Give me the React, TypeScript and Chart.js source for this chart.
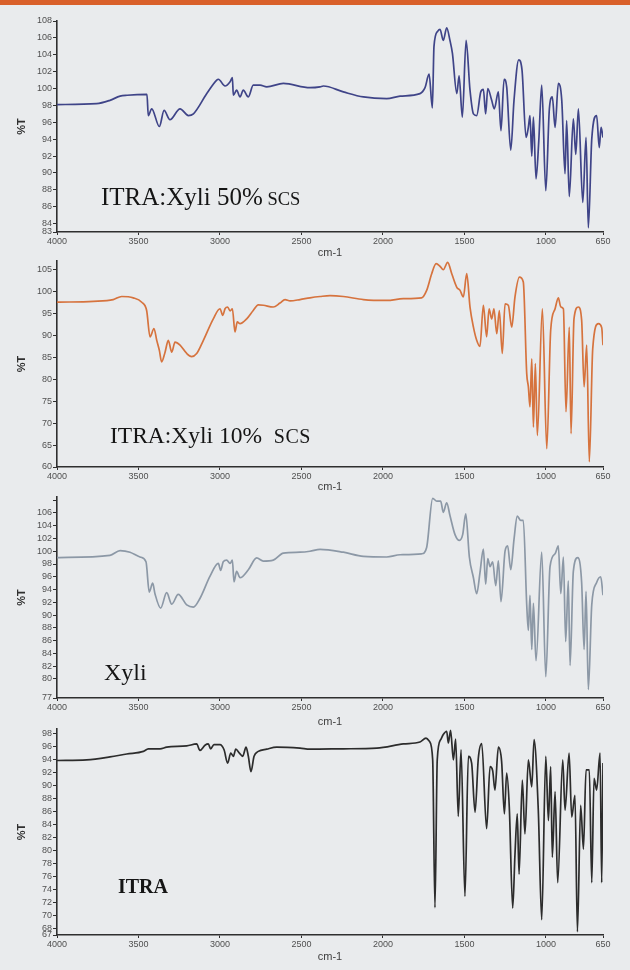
import React, { useEffect, useRef } from 'react';
import { Chart, registerables } from 'chart.js';

Chart.register(...registerables);
Chart.defaults.font.family = "'Liberation Sans', Arial, sans-serif";

const xTickValues = [4000, 3500, 3000, 2500, 2000, 1500, 1000, 650];

// Panel 1: ITRA:Xyli 50% SCS
const p1Wavenumber = [4000, 3757, 3675, 3613, 3570, 3448, 3440, 3419, 3372, 3343, 3307, 3245, 3194, 3163, 3081, 3020, 3010, 2969, 2938, 2924, 2918, 2898, 2877, 2857, 2826, 2796, 2754, 2713, 2611, 2448, 2386, 2366, 2243, 2120, 1977, 1895, 1773, 1742, 1717, 1697, 1687, 1664, 1650, 1630, 1609, 1589, 1574, 1547, 1533, 1513, 1490, 1466, 1445, 1425, 1400, 1384, 1370, 1357, 1333, 1317, 1292, 1276, 1257, 1241, 1216, 1196, 1167, 1147, 1122, 1108, 1098, 1087, 1077, 1061, 1044, 1026, 1001, 979, 961, 944, 924, 903, 883, 873, 857, 832, 817, 801, 774, 754, 740, 719, 689, 673, 662, 650];
const p1Transmittance = [98.1, 98.2, 98.6, 99.1, 99.2, 99.3, 96.8, 97.6, 95.5, 97.4, 96.3, 97.6, 96.8, 97.0, 99.4, 101.0, 101.1, 100.3, 100.8, 101.3, 99.2, 99.8, 99.0, 99.8, 99.0, 100.4, 100.4, 100.2, 100.6, 100.1, 100.2, 100.3, 99.6, 99.0, 98.8, 99.1, 99.4, 100.1, 101.7, 97.7, 105.0, 106.8, 107.0, 105.7, 107.2, 105.7, 104.2, 99.4, 101.5, 96.6, 105.7, 99.8, 97.0, 96.8, 99.6, 99.9, 97.0, 100.0, 98.6, 97.6, 99.6, 95.0, 101.1, 100.2, 92.7, 98.6, 103.4, 102.2, 94.2, 95.4, 96.8, 92.0, 96.6, 89.3, 93.8, 100.4, 87.9, 97.6, 99.0, 95.4, 100.6, 98.6, 89.9, 96.2, 87.2, 96.4, 92.2, 97.6, 86.5, 94.2, 83.5, 94.0, 96.8, 93.0, 95.4, 94.2];
const p1YTicks = [83, 84, 86, 88, 90, 92, 94, 96, 98, 100, 102, 104, 106, 108];

// Panel 2: ITRA:Xyli 10% SCS
const p2Wavenumber = [4000, 3777, 3655, 3603, 3532, 3480, 3450, 3429, 3405, 3388, 3372, 3358, 3337, 3317, 3296, 3276, 3245, 3204, 3174, 3143, 3102, 3041, 3000, 2983, 2969, 2953, 2938, 2924, 2908, 2894, 2877, 2836, 2796, 2765, 2734, 2673, 2632, 2601, 2570, 2509, 2448, 2386, 2325, 2243, 2120, 1977, 1875, 1763, 1732, 1701, 1674, 1650, 1630, 1603, 1578, 1547, 1527, 1507, 1486, 1466, 1445, 1425, 1405, 1384, 1364, 1349, 1333, 1319, 1302, 1286, 1268, 1251, 1231, 1210, 1190, 1163, 1139, 1118, 1108, 1098, 1087, 1077, 1065, 1053, 1022, 995, 971, 944, 924, 909, 893, 877, 857, 846, 828, 801, 781, 766, 750, 734, 713, 678, 658, 650];
const p2Transmittance = [97.6, 97.8, 98.2, 98.9, 98.6, 97.6, 95.7, 89.7, 91.6, 88.9, 86.6, 84.0, 86.2, 88.9, 86.2, 88.5, 87.8, 85.9, 85.2, 85.9, 88.9, 93.8, 96.1, 94.6, 96.1, 96.5, 95.6, 96.1, 90.8, 93.1, 92.7, 93.8, 95.7, 97.0, 96.9, 96.5, 97.4, 98.2, 97.9, 98.2, 98.6, 98.9, 99.1, 98.9, 98.2, 98.0, 98.4, 98.6, 100.3, 104.1, 106.4, 105.8, 105.0, 106.7, 104.1, 101.0, 100.3, 98.8, 104.1, 96.5, 91.9, 88.9, 87.5, 96.9, 89.7, 96.1, 93.8, 96.1, 90.4, 95.7, 85.9, 97.2, 96.9, 91.9, 98.8, 103.3, 102.2, 81.3, 78.3, 73.7, 84.7, 69.1, 83.6, 67.2, 96.1, 64.2, 91.2, 96.1, 98.6, 96.5, 96.1, 72.6, 91.9, 67.6, 93.8, 96.5, 93.5, 78.3, 87.8, 61.2, 87.0, 92.7, 91.8, 87.8];
const p2YTicks = [60, 65, 70, 75, 80, 85, 90, 95, 100, 105];

// Panel 3: Xyli
const p3Wavenumber = [4000, 3675, 3613, 3552, 3491, 3454, 3434, 3413, 3399, 3364, 3327, 3296, 3256, 3204, 3163, 3123, 3061, 3010, 2996, 2980, 2959, 2938, 2924, 2914, 2898, 2877, 2826, 2775, 2734, 2673, 2611, 2509, 2448, 2386, 2243, 2120, 1977, 1895, 1763, 1732, 1695, 1670, 1646, 1630, 1609, 1589, 1558, 1531, 1511, 1492, 1470, 1445, 1425, 1405, 1384, 1370, 1357, 1343, 1327, 1308, 1292, 1276, 1251, 1235, 1216, 1196, 1176, 1155, 1139, 1118, 1108, 1098, 1087, 1077, 1061, 1026, 1001, 975, 944, 924, 909, 893, 879, 863, 852, 832, 805, 781, 766, 754, 740, 719, 689, 664, 650];
const p3Transmittance = [99.0, 99.35, 100.1, 99.85, 99.1, 98.35, 93.6, 95.0, 93.35, 91.1, 93.5, 91.7, 93.25, 91.6, 91.25, 92.6, 96.1, 98.1, 97.0, 98.35, 98.6, 98.1, 98.6, 95.2, 96.85, 95.85, 97.1, 98.95, 98.45, 98.6, 99.7, 99.85, 100.0, 100.3, 99.85, 99.2, 99.1, 99.45, 99.6, 100.6, 108.3, 107.85, 107.85, 106.1, 107.6, 105.6, 102.6, 101.7, 102.6, 105.85, 99.1, 95.85, 93.35, 96.6, 100.35, 94.85, 98.85, 97.6, 98.35, 94.6, 98.5, 92.1, 100.0, 100.85, 97.1, 101.85, 105.5, 104.85, 104.85, 91.6, 87.6, 93.1, 84.6, 91.85, 82.85, 99.85, 80.35, 97.6, 99.6, 100.85, 93.35, 99.1, 85.85, 95.35, 82.1, 96.85, 99.0, 95.1, 84.6, 93.7, 78.35, 91.6, 95.1, 96.0, 93.1];
const p3YTicks = [77, 80, 82, 84, 86, 88, 90, 92, 94, 96, 98, 100, 102, 104, 106, 108];
const p3UnlabeledTicks = [108];

// Panel 4: ITRA
const p4Wavenumber = [4000, 3818, 3675, 3572, 3470, 3440, 3368, 3327, 3204, 3143, 3123, 3092, 3072, 3057, 3037, 3000, 2975, 2953, 2934, 2918, 2903, 2881, 2861, 2840, 2826, 2810, 2791, 2765, 2713, 2652, 2509, 2448, 2243, 2038, 1875, 1773, 1736, 1715, 1695, 1681, 1667, 1646, 1630, 1609, 1599, 1585, 1568, 1554, 1538, 1521, 1497, 1476, 1456, 1435, 1415, 1394, 1364, 1343, 1327, 1313, 1292, 1272, 1255, 1241, 1225, 1204, 1190, 1176, 1165, 1145, 1129, 1108, 1087, 1073, 1047, 1026, 1001, 985, 971, 961, 944, 928, 897, 883, 858, 842, 822, 807, 787, 770, 754, 734, 719, 705, 689, 668, 658, 650];
const p4Transmittance = [93.85, 93.95, 94.4, 94.85, 95.25, 95.65, 95.65, 95.9, 96.1, 96.4, 95.4, 96.2, 96.4, 95.65, 96.3, 96.3, 95.5, 93.45, 95.0, 94.5, 95.6, 95.0, 94.5, 95.9, 94.5, 92.15, 94.5, 95.25, 95.6, 95.9, 95.75, 95.6, 95.65, 95.75, 96.4, 96.7, 97.3, 96.8, 93.95, 71.2, 93.95, 97.05, 97.85, 98.35, 96.55, 98.5, 93.95, 97.15, 85.25, 95.5, 72.95, 94.5, 93.45, 85.9, 94.2, 96.45, 83.35, 92.9, 92.3, 89.3, 95.9, 93.7, 85.65, 91.9, 86.7, 71.15, 79.45, 85.65, 76.35, 90.85, 82.55, 93.95, 89.8, 97.05, 86.2, 69.35, 94.5, 84.6, 92.9, 78.95, 89.05, 75.05, 93.95, 86.2, 95.0, 85.15, 88.5, 67.5, 86.95, 80.2, 92.4, 92.4, 75.05, 91.1, 89.3, 95.0, 75.05, 93.45];
const p4YTicks = [67, 68, 70, 72, 74, 76, 78, 80, 82, 84, 86, 88, 90, 92, 94, 96, 98];

const AXIS = '#2f2f2f';
const TICK_TEXT = '#505050';
const PAD_TOP = 12;
const X_AXIS_H = 34;
const Y_AXIS_W = 57;

type PanelProps = {
  wn: number[];
  t: number[];
  yTicks: number[];
  hiddenLabels?: number[];
  yMin: number;
  yMax: number;
  color: string;
  areaTop: number;
  areaBottom: number;
  titleGap: number;
};

function Panel({ wn, t, yTicks, hiddenLabels = [], yMin, yMax, color, areaTop, areaBottom, titleGap }: PanelProps) {
  const ref = useRef<HTMLCanvasElement>(null);
  const height = areaBottom - areaTop + PAD_TOP + X_AXIS_H;
  useEffect(() => {
    const chart = new Chart(ref.current!, {
      type: 'line',
      data: {
        datasets: [
          {
            data: wn.map((x, i) => ({ x, y: t[i] })),
            borderColor: color,
            borderWidth: 1.7,
            pointRadius: 0,
            cubicInterpolationMode: 'monotone',
            fill: false,
          },
        ],
      },
      options: {
        animation: false,
        responsive: false,
        maintainAspectRatio: false,
        layout: { padding: { left: 0, right: 27, top: PAD_TOP, bottom: 0 } },
        plugins: { legend: { display: false }, tooltip: { enabled: false } },
        scales: {
          x: {
            type: 'linear',
            reverse: true,
            min: 650,
            max: 4000,
            afterBuildTicks: (s: any) => {
              s.ticks = xTickValues.map((v) => ({ value: v }));
            },
            afterFit: (s: any) => {
              s.height = X_AXIS_H;
            },
            ticks: {
              autoSkip: false,
              maxRotation: 0,
              padding: 1,
              color: TICK_TEXT,
              font: { size: 9 },
              callback: (v: any) => String(v),
            },
            grid: { display: true, drawOnChartArea: false, drawTicks: true, tickLength: 3, color: AXIS, lineWidth: 1 },
            border: { display: true, color: AXIS, width: 1.6 },
            title: {
              display: true,
              text: 'cm-1',
              color: '#404040',
              font: { size: 11 },
              padding: { top: 0, bottom: X_AXIS_H - titleGap - 6.6 },
            },
          },
          y: {
            type: 'linear',
            min: yMin,
            max: yMax,
            afterBuildTicks: (s: any) => {
              s.ticks = yTicks.map((v) => ({ value: v }));
            },
            afterFit: (s: any) => {
              s.width = Y_AXIS_W;
            },
            ticks: {
              autoSkip: false,
              padding: 1,
              color: TICK_TEXT,
              font: { size: 9 },
              callback: (v: any) => (hiddenLabels.includes(v) ? '' : String(v)),
            },
            grid: { display: true, drawOnChartArea: false, drawTicks: true, tickLength: 4, color: AXIS, lineWidth: 1 },
            border: { display: true, color: AXIS, width: 1.6 },
            title: {
              display: true,
              text: '%T',
              color: '#303030',
              font: { size: 11, weight: 'bold' },
              padding: { top: 15.4, bottom: 0 },
            },
          },
        },
      } as any,
    });
    return () => chart.destroy();
  }, []);
  return (
    <canvas
      ref={ref}
      width={630}
      height={height}
      style={{ position: 'absolute', left: 0, top: areaTop - PAD_TOP, width: 630, height }}
    />
  );
}

const serif = "'Liberation Serif', 'Times New Roman', serif";

function Label({ left, baseline, size, bold, children }: any) {
  return (
    <div
      style={{
        position: 'absolute',
        left,
        top: baseline - 0.8375 * size,
        fontFamily: serif,
        fontSize: size,
        lineHeight: `${size}px`,
        fontWeight: bold ? 'bold' : 'normal',
        color: '#151515',
        whiteSpace: 'pre',
      }}
    >
      {children}
    </div>
  );
}

export default function App() {
  return (
    <div
      style={{
        position: 'absolute',
        left: 0,
        top: 0,
        width: 630,
        height: 970,
        background: '#e9ebed',
        overflow: 'hidden',
      }}
    >
      <div style={{ position: 'absolute', left: 0, top: 0, width: 630, height: 5, background: '#d9602a' }} />
      <Panel wn={p1Wavenumber} t={p1Transmittance} yTicks={p1YTicks} yMin={83} yMax={108} color="#3f4488" areaTop={21} areaBottom={232} titleGap={21} />
      <Panel wn={p2Wavenumber} t={p2Transmittance} yTicks={p2YTicks} yMin={60} yMax={107} color="#d6733e" areaTop={261} areaBottom={467} titleGap={20} />
      <Panel wn={p3Wavenumber} t={p3Transmittance} yTicks={p3YTicks} hiddenLabels={p3UnlabeledTicks} yMin={77} yMax={108.5} color="#8c98a6" areaTop={497} areaBottom={698} titleGap={24} />
      <Panel wn={p4Wavenumber} t={p4Transmittance} yTicks={p4YTicks} yMin={67} yMax={98.7} color="#2c2c2c" areaTop={729} areaBottom={935} titleGap={22} />
      <Label left={101} baseline={205} size={25}>
        {'ITRA:Xyli 50%'}
        <span style={{ fontSize: 18.5 }}>{' SCS'}</span>
      </Label>
      <Label left={110} baseline={444} size={23.5}>
        {'ITRA:Xyli 10%  '}
        <span style={{ fontSize: 20, letterSpacing: 0.5 }}>{'SCS'}</span>
      </Label>
      <Label left={104} baseline={680} size={24}>
        {'Xyli'}
      </Label>
      <Label left={118} baseline={892.7} size={20} bold>
        {'ITRA'}
      </Label>
    </div>
  );
}
